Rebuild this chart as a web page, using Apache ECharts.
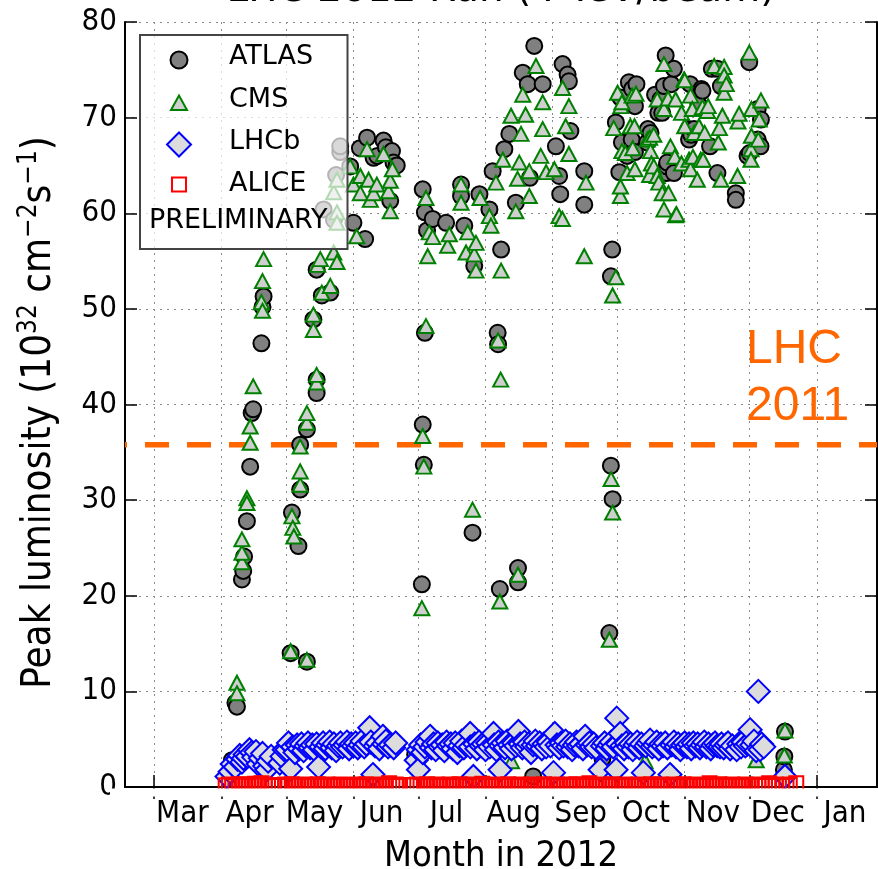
<!DOCTYPE html>
<html>
<head>
<meta charset="utf-8">
<script src="https://cdn.jsdelivr.net/npm/echarts@6/dist/echarts.min.js"></script>
<style>
  html, body { margin: 0; padding: 0; background: #ffffff; }
  #chart { width: 878px; height: 869px; }
</style>
</head>
<body>
<div id="chart"></div>
<script>
// x: day of year 2012 (1 = 1 Jan), y: peak luminosity in 1e32 cm^-2 s^-1

const atlas = [
  [96.9,2.8],[98.5,8.8],[99.2,8.4],[101.5,21.7],[102.1,22.6],[102.5,24.1],[103.8,27.8],[105.3,33.5],[106,39.1],[106.7,39.5],[110.5,46.4],[111,50.2],[111.5,51.3],
  [124,14.0],[124.6,28.7],[127.6,25.2],[128.4,31.1],[128.4,35.8],[131.5,13.1],[131.5,37.4],[134.5,48.9],[136,42.6],[136,41.2],[136,54.1],[138.4,51.4],[139.2,60.4],[142.3,51.7],[144,59.3],[145,64.0],[146.9,66.4],[146.9,67.0],
  [151.5,64.9],[153,59.0],[156,66.8],[158.4,57.3],[159.3,67.9],[162.3,65.8],[164,66.0],[166.9,67.6],[168,66.9],[170,61.3],[170.8,66.5],[171.5,65.3],[173,65.0],
  [181.5,3.4],[184.6,21.2],[185,62.5],[185,37.9],[185.5,33.7],[186,60.1],[186,47.5],[187,58.2],[189.6,59.4],[195.8,59.0],[202.7,63.0],[202.7,61.8],[204.2,58.7],[208,26.6],[208.8,54.5],[211.2,62.0],
  [215.8,60.4],[217.3,64.4],[219.6,47.5],[219.8,46.3],[220.6,20.7],[221.2,56.2],[222.7,66.7],[225,68.3],[228,61.1],[229,22.9],[229,21.4],[231.2,74.7],[233.5,73.5],[234.5,63.7],[236,1.1],[236.5,77.5],[240.4,73.5],
  [246.5,67.0],[248,63.9],[248.5,62.0],[249.6,75.6],[251.9,74.5],[252.5,73.8],[253.2,68.6],[259.6,64.4],[259.6,60.9],[268,3.0],
  [271.2,16.1],[271.9,33.6],[271.9,53.4],[272.5,56.2],[272.7,30.1],[274.2,69.5],[275.8,64.3],[276.3,72.1],[277,67.4],[279.4,66.0],[280.2,73.7],[281.5,67.7],[281.7,73.0],[283,71.2],[283,66.4],[283.7,73.5],
  [288.7,67.4],[289,68.8],[290.2,68.4],[292.3,72.4],[293.8,70.5],[294.8,71.9],[295.6,70.5],[296.4,73.3],[297.2,76.5],[297.5,64.2],[297.7,64.9],[297.9,65.3],[299.8,73.5],[301,75.1],[301,64.2],[307.7,68.8],[308,67.7],[308.5,73.5],[309,68.2],[310.3,68.8],[312.3,71.4],[313.7,73.0],[314.2,72.8],[317.7,67.0],[318.5,75.1],[321.1,75.1],[321.1,64.2],[322.7,73.3],[329.6,62.1],[329.6,61.4],[335,66.0],[335.8,75.8],[336,66.3],[339.7,70.9],[339.7,67.7],[341,67.0],[341.2,69.8],
  [351.8,1.8],[352,3.2],[352.3,5.8]
];

const cms = [
  [96.5,2.5],[99.2,10.9],[99.2,9.8],[101.5,23.5],[101.5,24.5],[101.5,25.9],[103.8,30.2],[103.8,29.7],[105.3,36.0],[105.3,37.7],[106.7,41.9],[110.5,50.7],[111,49.8],[111,52.9],[111.5,55.2],
  [124,14.2],[124.6,28.3],[125,27.1],[125.5,26.2],[128.4,31.6],[128.4,33.0],[128.4,35.6],[131.5,13.3],[131.5,38.1],[131.5,39.1],[134.5,47.8],[134.5,49.4],[136,42.3],[136,43.1],[136.5,54.6],[137.7,55.2],[138.4,51.7],[142.3,52.4],[143.9,55.9],[143.9,62.2],[145.4,54.9],[145.4,60.1],[145.4,59.0],[145.4,63.5],
  [151.5,64.9],[153,63.0],[154.5,57.6],[156.2,63.9],[156.2,62.1],[159.3,66.7],[160,63.5],[160.8,61.4],[162.3,62.1],[163.8,63.0],[166.9,66.2],[169.2,62.3],[170,63.4],[170,60.2],[171,64.6],
  [184.6,18.7],[185,36.7],[185.5,33.5],[186.5,61.6],[186.5,48.2],[187.3,55.5],[188,58.0],[189.6,57.5],[196.5,56.6],[197.3,57.8],[202.7,63.0],[202.7,61.1],[205,55.9],[205.8,58.0],[208,29.0],[208.8,55.7],[209.6,54.0],[209.6,56.9],[211.5,61.6],
  [215.8,59.7],[216.5,58.7],[218.8,63.2],[219.8,46.7],[220.6,19.4],[221,42.6],[221.2,54.0],[222,65.6],[225.8,70.2],[226,2.7],[228,60.2],[228.8,63.6],[229,22.2],[229.6,65.3],[230.4,68.3],[231.2,72.4],[232.5,70.3],[234.2,64.4],[234.2,61.8],[237.3,75.4],[239.5,66.0],[240.4,71.6],[240.4,68.8],[242,64.3],
  [245.8,64.6],[248,59.7],[249.5,59.4],[249.6,73.1],[251,69.1],[252.5,71.2],[252.5,66.2],[259.6,55.5],[260.4,63.2],
  [271.2,15.4],[272,32.2],[272.7,28.7],[272.7,51.4],[274.2,53.3],[273.2,68.9],[275,72.6],[276.3,61.8],[276.3,62.8],[276.5,71.2],[277,71.6],[277,66.5],[278.6,66.3],[279.4,64.2],[280.9,69.1],[281.7,72.3],[282,66.8],[282.8,69.1],[283,64.6],[283.5,72.5],[287.7,2.7],
  [288.7,67.7],[289.8,67.9],[289.8,64.0],[290.2,66.5],[290.6,65.2],[291.7,68.2],[291.7,64.9],[293.3,71.9],[293.3,63.9],[294,63.2],[295.6,62.1],[296.4,75.6],[296.4,70.9],[296.4,60.4],[298.3,72.0],[298.5,62.1],[299.4,67.0],[301.4,65.9],[301.8,71.9],[301.8,59.8],[302.2,59.9],[304.5,70.5],[304.5,65.2],[305.7,74.0],[306,73.9],[306,69.1],[308,65.6],[308.7,72.3],[308.7,64.6],[309.5,70.9],[309.8,65.9],[310.3,68.4],[311.8,63.5],[312.6,69.1],[313.4,65.6],[314.2,71.1],[314.5,65.6],[315.2,68.4],[316.5,70.7],[316.8,71.2],[319.6,75.4],[321.5,67.4],[322,68.9],[322.7,63.5],[323.4,70.2],[324.2,75.3],[324.2,74.4],[324.2,72.6],[325.2,73.5],[330.4,63.9],[330.6,69.6],[331.1,70.4],[335.8,76.8],[336.6,66.7],[336.6,65.6],[336.8,70.9],[336.8,68.1],[339,2.8],[340,67.7],[340.4,69.8],[341.2,71.8],
  [352,3.3],[352.3,5.9]
];

const lhcb = [
  [94.6,1.1],[96,1.6],[97,2.4],[98.4,2.1],[99.5,2.9],[100.5,3.3],[101.5,2.6],[102.2,3.0],[103,3.4],[104,3.2],[105,3.9],[106,3.6],[107,3.1],[108,3.7],[109,2.4],[110,3.0],[111,3.5],[112,2.2],[113,1.8],[113.6,2.7],[115,3.2],
  [119,2.5],[120,3.2],[121,3.9],[122.3,3.9],[123,4.6],[124,1.9],[125,4.2],[126,3.6],[127,4.4],[128,4.0],[129,4.5],[130,3.8],[131,4.3],[132,4.6],[133,4.1],[134,4.4],[135,3.9],[136,4.5],[136.9,2.1],[138,4.2],[139,4.6],[140,4.0],[141,4.4],[142,4.7],[143,4.1],[144,4.5],[145,3.8],[146,4.3],[147,4.6],[148,4.2],[149,4.4],[150,4.7],[151,4.0],[152,4.5],[153,4.3],[154,4.6],[155,4.1],[156,4.4],[157,4.8],[158,4.2],[159,4.5],[160.5,6.2],[161,4.7],[162,1.3],[163,4.3],[164,4.6],[165,4.0],[166.6,5.3],[167,4.5],[168,4.8],[169,4.2],[170,4.4],[171.6,4.1],[172.5,4.6],
  [182,2.8],[182.9,3.9],[183,1.8],[184,4.4],[185,3.6],[186,4.2],[187,4.7],[188.4,5.3],[189,4.1],[190,4.5],[191,3.9],[192,4.6],[193,4.2],[194,4.4],[195,3.8],[196,4.7],[197,4.3],[198,4.5],[199,4.0],[200,4.6],[201,3.6],[202,4.3],[203,4.8],[204,4.1],[205,4.4],[206.9,5.6],[207,4.2],[208.4,1.1],[209,4.5],[210,4.0],[211,4.7],[212,4.3],[213,4.5],[214,3.9],[215,4.6],[216,4.2],[217.7,5.6],[218,4.4],[219,3.9],[220,4.7],[220.7,1.8],[221,4.3],[222,4.6],[223,4.1],[224,4.8],[225,4.4],[226,4.0],[227,4.6],[228,4.3],[229.2,5.8],[230,4.5],[231,4.1],[232,4.7],[233,4.2],[234,4.5],[235,3.6],[236,4.4],[237,4.8],[238,4.3],[239,4.6],[240,4.0],[241,4.5],[242,4.2],[243,4.7],[244,4.3],[245.4,1.5],[246,5.6],[247,4.4],[248,4.1],[249,4.6],[250,4.3],[251,4.8],[252,4.2],[253,4.5],[254,3.9],[255,4.4],[256,4.7],[257,4.3],[258,4.5],[259,4.0],[260,5.3],[261,4.4],[262,4.6],[263,4.2],[264,4.5],[265,4.1],[266.9,1.8],[268,4.3],[269,4.6],[270,4.0],[271,4.4],[272,4.7],[273,4.2],[274.3,1.8],[274.6,7.2],[275,4.5],[276.2,5.6],
  [277,4.3],[278,4.0],[279,4.6],[280,4.2],[281,4.5],[282,3.9],[283,4.4],[284,4.7],[285,4.1],[286,4.5],[286.9,1.5],[288,4.3],[289,4.6],[290,4.9],[291,4.2],[292,4.4],[293,4.7],[294,4.0],[295,4.5],[296,4.3],[297,4.6],[298,4.1],[299.2,1.3],[300,4.4],[301,4.7],[302,4.2],[303,4.5],[304,3.9],[305,4.4],[306,4.6],[307,4.2],[308,4.5],[309,4.0],[310,4.6],[311,4.3],[312,4.5],[313,4.1],[314,4.4],[315,4.7],[316,4.2],[317,4.5],[318,4.0],[319,4.4],[320,4.6],[321,4.3],[322.3,4.2],[323,4.5],[324,4.1],[325,4.4],[326,4.6],[327,4.0],[328,4.3],[330,3.9],[331,4.5],[332,4.2],[333,4.7],[334,4.3],[335,4.5],[336.2,6.0],[337,4.4],[338,4.8],[339,3.8],[340,10.0],[340.8,3.9],[341.5,4.5],[342.5,4.2],
  [352.3,1.1]
];

const alice = [
  [94,0.15],[95.5,0.25],[97,0.1],[98.5,0.2],[100,0.3],[101.5,0.15],[103,0.25],[104.5,0.1],[106,0.2],[107.5,0.35],[109,0.15],[110.5,0.4],[112,0.25],[113.5,0.15],[115,0.2],[116,0.1],
  [118.5,0.2],[120,0.1],[121.5,0.25],[123,0.15],[124.5,0.3],[126,0.1],[127.5,0.2],[129,0.15],[130.5,0.25],[132,0.1],[133.5,0.2],[135,0.15],[136.5,0.3],[138,0.1],[139.5,0.2],[141,0.25],[142.5,0.15],[144,0.1],[145.5,0.2],[147,0.25],[148.5,0.15],[150,0.1],[151.5,0.2],[153,0.15],[154.5,0.25],[156,0.1],[157.5,0.2],[159,0.3],[160.5,0.15],[162,0.1],[163.5,0.2],[165,0.15],[166.5,0.25],[168,0.1],[169.5,0.4],[171,0.15],[172.5,0.25],[174,0.1],
  [179.5,0.2],[181,0.15],[182.5,0.25],[184,0.1],[185.5,0.2],[187,0.3],[188.5,0.15],[190,0.1],[191.5,0.25],[193,0.2],[194.5,0.1],[196,0.15],[197.5,0.25],[199,0.2],[200.5,0.1],[202,0.3],[203.5,0.15],[205,0.2],[206.5,0.1],[208,0.25],[209.5,0.15],[211,0.2],[212.5,0.35],[214,0.1],[215.5,0.2],[217,0.15],[218.5,0.25],[220,0.1],[221.5,0.2],[223,0.15],[224.5,0.3],[226,0.1],[227.5,0.2],[229,0.15],[230.5,0.25],[232,0.1],[233.5,0.2],[235,0.25],[236.5,0.15],[238,0.1],[239.5,0.2],[241,0.3],[242.5,0.15],[244,0.2],[245.5,0.1],[247,0.25],[248.5,0.15],[250,0.2],[251.5,0.1],[253,0.25],[254.5,0.15],[256,0.3],[257.5,0.1],[259,0.2],[260.5,0.15],[262,0.4],[263.5,0.1],[265,0.2],[266.5,0.15],[268,0.25],[269.5,0.1],[271,0.2],[272.5,0.3],[274,0.15],[275.5,0.1],
  [277,0.2],[278.5,0.25],[280,0.15],[281.5,0.1],[283,0.2],[284.5,0.25],[286,0.15],[287.5,0.1],[289,0.2],[290.5,0.3],[292,0.15],[293.5,0.1],[295,0.25],[296.5,0.2],[298,0.1],[299.5,0.15],[301,0.25],[302.5,0.2],[304,0.1],[305.5,0.3],[307,0.15],[308.5,0.2],[310,0.1],[311.5,0.25],[313,0.15],[314.5,0.2],[316,0.1],[317.5,0.4],[319,0.15],[320.5,0.2],[322,0.3],[323.5,0.1],[325,0.2],[326.5,0.15],[328,0.25],[329.5,0.1],[331,0.2],[332.5,0.15],[334,0.25],[335.5,0.1],[337,0.2],[338.5,0.15],[340,0.25],[341.5,0.1],[343,0.2],
  [345,0.4],[346.5,0.1],[348,0.25],[349.5,0.15],[351,0.2],[353,0.1],[354.5,0.25],[357.5,0.4]
];

// Axis layout in day-of-year units
const dayRange = [47.5, 394.8];
const monthStarts = [61, 92, 122, 153, 183, 214, 245, 275, 306, 336, 367];
const monthLabelDays = [74, 105, 135, 166, 196, 227, 258, 288, 319, 349, 380];
const monthNames = ['Mar', 'Apr', 'May', 'Jun', 'Jul', 'Aug', 'Sep', 'Oct', 'Nov', 'Dec', 'Jan'];
const lumiRange = [0, 80];
const lumiStep = 10;

// Best 2011 peak luminosity, shown as a reference line
const lhc2011Peak = 35.8;
const lhc2011Line = [[dayRange[0], lhc2011Peak], [dayRange[1], lhc2011Peak]];

const FONT = 'DejaVu Sans';
const AXFONT = "'DejaVu Sans Condensed', 'DejaVu Sans'";
const gridDots = { type: [2, 5], color: '#8a8a8a', width: 1 };
const spine = { show: true, lineStyle: { color: '#000', width: 2 } };
const inTick = { show: true, inside: true, length: 12, lineStyle: { color: '#000', width: 1.5 } };

const chart = echarts.init(document.getElementById('chart'), null, { renderer: 'canvas' });

const option = {
  animation: false,
  backgroundColor: '#ffffff',
  grid: { left: 125, right: 1, top: 22, bottom: 82, containLabel: false, outerBoundsMode: 'none' },
  xAxis: [
    {
      type: 'value', position: 'bottom', min: dayRange[0], max: dayRange[1],
      axisLine: spine,
      axisTick: Object.assign({}, inTick, { customValues: monthStarts }),
      axisLabel: {
        customValues: monthLabelDays,
        formatter: v => monthNames[monthLabelDays.indexOf(v)],
        fontFamily: AXFONT, fontSize: 31, color: '#000', margin: 11
      },
      splitLine: { show: true, lineStyle: gridDots },
      name: 'Month in 2012', nameLocation: 'middle', nameGap: 52, nameMoveOverlap: false,
      nameTextStyle: { fontFamily: AXFONT, fontSize: 36, color: '#000' }
    },
    {
      type: 'value', position: 'top', min: dayRange[0], max: dayRange[1],
      axisLine: spine,
      axisTick: Object.assign({}, inTick, { customValues: monthStarts }),
      axisLabel: { show: false },
      splitLine: { show: false }
    }
  ],
  yAxis: [
    {
      type: 'value', position: 'left', min: lumiRange[0], max: lumiRange[1], interval: lumiStep,
      axisLine: spine, axisTick: inTick,
      axisLabel: { fontFamily: AXFONT, fontSize: 31, color: '#000', margin: 8 },
      splitLine: { show: true, lineStyle: gridDots },
      name: '{a|Peak luminosity (10}{s|32}{a| cm}{s|\u22122}{a|s}{s|\u22121}{a|)}',
      nameLocation: 'middle', nameGap: 65, nameMoveOverlap: false,
      nameTextStyle: {
        padding: [0, 16, 0, 0],
        rich: {
          a: { fontFamily: AXFONT, fontSize: 40, color: '#000', verticalAlign: 'bottom', lineHeight: 48 },
          s: { fontFamily: AXFONT, fontSize: 26, color: '#000', verticalAlign: 'bottom', lineHeight: 48, padding: [0, 0, 18, 0] }
        }
      }
    },
    {
      type: 'value', position: 'right', min: lumiRange[0], max: lumiRange[1], interval: lumiStep,
      axisLine: spine, axisTick: inTick,
      axisLabel: { show: false }, splitLine: { show: false }
    }
  ],
  series: [
    {
      type: 'line', name: 'LHC 2011', data: lhc2011Line, symbol: 'none', silent: true, z: 1,
      lineStyle: { color: '#ff6600', width: 5.5, type: [24, 18], dashOffset: 22 }
    },
    {
      type: 'scatter', name: 'ATLAS', data: atlas, symbol: 'circle', symbolSize: 16, z: 3,
      itemStyle: { color: '#808080', borderColor: '#000000', borderWidth: 2, opacity: 1 },
      emphasis: { disabled: true }
    },
    {
      type: 'scatter', name: 'CMS', data: cms, symbol: 'triangle', symbolSize: [15, 14], z: 4,
      itemStyle: { color: '#cfcfcf', borderColor: '#008000', borderWidth: 2, opacity: 1 },
      emphasis: { disabled: true }
    },
    {
      type: 'scatter', name: 'LHCb', data: lhcb, symbol: 'diamond', symbolSize: 23, z: 5,
      itemStyle: { color: '#dcdcdc', borderColor: '#0000ff', borderWidth: 2, opacity: 1 },
      emphasis: { disabled: true }
    },
    {
      type: 'scatter', name: 'ALICE', data: alice, symbol: 'rect', symbolSize: 14, z: 6,
      itemStyle: { color: 'rgba(0,0,0,0)', borderColor: '#ff0000', borderWidth: 2, opacity: 1 },
      emphasis: { disabled: true }
    }
  ],
  graphic: {
    elements: [
      // markers are clipped at the bottom spine
      { type: 'rect', z: 50, silent: true, shape: { x: 110, y: 788.5, width: 768, height: 8 }, style: { fill: '#ffffff' } },
      // title (top of the canvas cuts it)
      { type: 'text', z: 50, silent: true, x: 501, y: -9,
        style: { text: 'LHC 2012 Run (4 TeV/beam)', fontFamily: FONT, fontSize: 39, fill: '#000', align: 'center', verticalAlign: 'middle' } },
      // LHC 2011 annotation
      { type: 'text', z: 50, silent: true, x: 746, y: 349.5,
        style: { text: 'LHC', fontFamily: 'Liberation Sans', fontSize: 48, fill: '#ff6600', align: 'left', verticalAlign: 'middle' } },
      { type: 'text', z: 50, silent: true, x: 746, y: 406.7,
        style: { text: '2011', fontFamily: 'Liberation Sans', fontSize: 48, fill: '#ff6600', align: 'left', verticalAlign: 'middle' } },
      // legend box
      { type: 'rect', z: 100, silent: true, shape: { x: 140, y: 35, width: 207.5, height: 214 },
        style: { fill: 'rgba(255,255,255,0.7)', stroke: '#444444', lineWidth: 2 } },
      { type: 'circle', z: 101, silent: true, shape: { cx: 179, cy: 60, r: 8.5 },
        style: { fill: '#808080', stroke: '#000000', lineWidth: 2 } },
      { type: 'polygon', z: 101, silent: true, shape: { points: [[179, 95.5], [171, 110], [187, 110]] },
        style: { fill: '#cfcfcf', stroke: '#008000', lineWidth: 2 } },
      { type: 'polygon', z: 101, silent: true, shape: { points: [[179, 132.5], [191, 144.5], [179, 156.5], [167, 144.5]] },
        style: { fill: '#dcdcdc', stroke: '#0000ff', lineWidth: 2 } },
      { type: 'rect', z: 101, silent: true, shape: { x: 172, y: 177.5, width: 14, height: 14 },
        style: { fill: 'rgba(0,0,0,0)', stroke: '#ff0000', lineWidth: 2 } },
      { type: 'text', z: 101, silent: true, x: 229, y: 57,
        style: { text: 'ATLAS', fontFamily: FONT, fontSize: 27, fill: '#000', align: 'left', verticalAlign: 'middle' } },
      { type: 'text', z: 101, silent: true, x: 229, y: 100,
        style: { text: 'CMS', fontFamily: FONT, fontSize: 27, fill: '#000', align: 'left', verticalAlign: 'middle' } },
      { type: 'text', z: 101, silent: true, x: 229, y: 142,
        style: { text: 'LHCb', fontFamily: FONT, fontSize: 27, fill: '#000', align: 'left', verticalAlign: 'middle' } },
      { type: 'text', z: 101, silent: true, x: 229, y: 183.5,
        style: { text: 'ALICE', fontFamily: FONT, fontSize: 27, fill: '#000', align: 'left', verticalAlign: 'middle' } },
      { type: 'text', z: 101, silent: true, x: 149, y: 221,
        style: { text: 'PRELIMINARY', fontFamily: FONT, fontSize: 27, fill: '#000', align: 'left', verticalAlign: 'middle' } }
    ]
  }
};

chart.setOption(option);
</script>
</body>
</html>
